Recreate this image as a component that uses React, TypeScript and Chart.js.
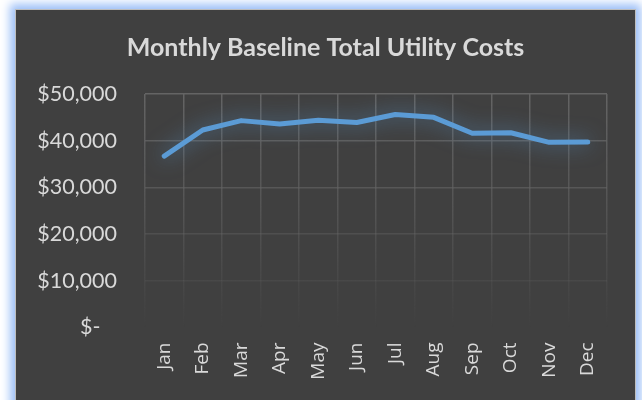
import React, { useEffect, useRef } from "react";
import { Chart, registerables } from "chart.js";

Chart.register(...registerables);

const months = ["Jan", "Feb", "Mar", "Apr", "May", "Jun", "Jul", "Aug", "Sep", "Oct", "Nov", "Dec"];
const costs = [36700, 42300, 44300, 43600, 44400, 43900, 45600, 45000, 41600, 41700, 39650, 39700];
const yTickValues = [0, 10000, 20000, 30000, 40000, 50000];
const titleText = "Monthly Baseline Total Utility Costs";

const glowPlugin = {
  id: "glow",
  beforeDatasetDraw(chart: any) {
    const c = chart.ctx;
    c.save();
    c.shadowColor = "rgba(91,155,213,0.7)";
    c.shadowBlur = 20;
  },
  afterDatasetDraw(chart: any) {
    chart.ctx.restore();
  },
};

function gridColor(ctx: any) {
  const chart = ctx.chart;
  const area = chart.chartArea;
  if (!area) return "rgba(100,100,100,0.9)";
  const g = chart.ctx.createLinearGradient(0, area.top, 0, area.bottom);
  g.addColorStop(0, "rgba(100,100,100,1)");
  g.addColorStop(0.5, "rgba(100,100,100,0.55)");
  g.addColorStop(1, "rgba(100,100,100,0)");
  return g;
}

export default function App() {
  const ref = useRef<HTMLCanvasElement>(null);
  useEffect(() => {
    document.body.style.margin = "0";
    const chart = new Chart(ref.current!, {
      type: "line",
      data: {
        labels: months,
        datasets: [
          {
            data: costs,
            borderColor: "#5b9bd5",
            borderWidth: 5,
            pointRadius: 0,
            tension: 0,
            borderCapStyle: "round",
            borderJoinStyle: "round",
            fill: false,
          },
        ],
      },
      options: {
        animation: false,
        responsive: false,
        maintainAspectRatio: false,
        layout: { padding: { left: 9, right: 0, top: 0, bottom: 0 } },
        plugins: {
          legend: { display: false },
          tooltip: { enabled: false },
          title: {
            display: true,
            text: titleText,
            color: "#d9d9d9",
            font: { family: "Lato", size: 25, weight: "bold" },
            padding: { top: 33, bottom: 31 },
          },
        },
        scales: {
          x: {
            offset: true,
            grid: { offset: true, color: gridColor, lineWidth: 1.5, drawTicks: false },
            border: { display: false },
            ticks: {
              color: "#d9d9d9",
              font: { family: "Open Sans", size: 19 },
              minRotation: 90,
              maxRotation: 90,
              padding: 15,
              autoSkip: false,
            },
            afterFit(scale: any) {
              scale.height = 72.5;
            },
          },
          y: {
            min: 0,
            max: 50000,
            afterBuildTicks(scale: any) {
              scale.ticks = yTickValues.map((v) => ({ value: v }));
            },
            grid: { color: gridColor, lineWidth: 1.5, drawTicks: false },
            border: { display: false },
            ticks: {
              color: "#d9d9d9",
              font: { family: "Lato", size: 21.5 },
              padding: 28,
              callback: (v: any) =>
                Number(v) === 0 ? "$-   " : "$" + Number(v).toLocaleString("en-US"),
            },
            afterFit(scale: any) {
              scale.width = 136;
            },
          },
          spacer: {
            type: "linear",
            position: "right",
            min: 0,
            max: 1,
            grid: { display: false, drawTicks: false },
            border: { display: false },
            ticks: { display: false },
            afterFit(scale: any) {
              scale.width = 35;
            },
          },
        },
      },
      plugins: [glowPlugin],
    });
    return () => chart.destroy();
  }, []);

  return (
    <div
      style={{
        position: "relative",
        width: 642,
        height: 400,
        overflow: "hidden",
        background: "#ffffff",
      }}
    >
      <div
        style={{
          position: "absolute",
          left: 15,
          top: 9,
          width: 619,
          height: 420,
          background: "#404040",
          border: "1px solid #bdbdbd",
          boxShadow: "0 0 9px 5px #9cbff7",
        }}
      />
      <canvas
        ref={ref}
        width={642}
        height={400}
        style={{ position: "absolute", left: 0, top: 0, width: 642, height: 400 }}
      />
    </div>
  );
}
